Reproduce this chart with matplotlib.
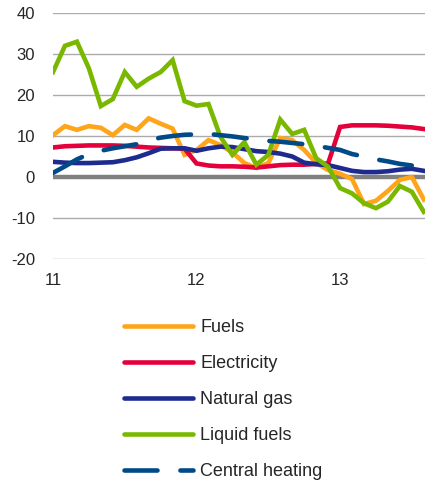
#!/usr/bin/env python3
"""
Energy price components, annual change (%), monthly from Jan 2011.
Recreated line chart with the legend stacked below the plot.
"""

import matplotlib
matplotlib.use("Agg")
import matplotlib.pyplot as plt
from matplotlib.lines import Line2D

plt.rcParams["font.family"] = ["Liberation Sans", "DejaVu Sans"]
plt.rcParams["axes.unicode_minus"] = False

# month index from Jan 2011 (0) to Aug 2013 (31)
months = list(range(32))

fuels = [10.2, 12.4, 11.5, 12.4, 12.0, 10.2, 12.7, 11.5, 14.3, 13.0, 11.8, 5.4,
         6.6, 9.0, 7.8, 6.0, 3.4, 2.2, 3.4, 9.5, 9.0, 6.6, 3.4, 1.7,
         0.8, -0.5, -6.6, -5.8, -3.4, -0.7, 0.0, -5.5]
electricity = [7.2, 7.5, 7.6, 7.7, 7.7, 7.7, 7.6, 7.4, 7.2, 7.1, 7.0, 6.9,
               3.3, 2.8, 2.6, 2.6, 2.5, 2.3, 2.6, 2.9, 3.0, 3.0, 3.2, 3.3,
               12.2, 12.6, 12.6, 12.6, 12.5, 12.3, 12.1, 11.7]
natural_gas = [3.7, 3.5, 3.4, 3.4, 3.5, 3.6, 4.1, 4.8, 5.8, 6.9, 7.0, 7.0,
               6.4, 7.0, 7.4, 7.3, 6.8, 6.3, 6.1, 5.7, 5.0, 3.5, 3.1, 2.9,
               2.2, 1.5, 1.2, 1.2, 1.4, 1.8, 2.0, 1.5]
liquid_fuels = [25.6, 32.0, 33.0, 26.5, 17.3, 19.0, 25.6, 22.0, 24.0, 25.6, 28.5, 18.5,
                17.4, 17.8, 9.8, 5.4, 8.5, 3.0, 5.4, 14.0, 10.5, 11.5, 4.6, 2.5,
                -2.7, -4.0, -6.4, -7.6, -6.0, -2.2, -3.6, -8.5]
central_heating = [1.0, 2.6, 4.3, 5.6, 6.4, 7.0, 7.5, 8.0, 9.0, 9.6, 10.0, 10.3,
                   10.4, 10.5, 10.2, 9.9, 9.5, 9.2, 8.8, 8.6, 8.3, 8.0, 7.6, 7.1,
                   6.6, 5.6, 5.0, 4.3, 3.8, 3.2, 2.8, 2.4]

labels = ["Fuels", "Electricity", "Natural gas", "Liquid fuels", "Central heating"]
colors = ["#FFA51A", "#E4003B", "#1E2B8E", "#7AB800", "#004A88"]

year_ticks = [0, 12, 24]
year_labels = ["11", "12", "13"]
y_ticks = [-20, -10, 0, 10, 20, 30, 40]

TEXT = "#262626"
LW = 3.3


def main():
    fig = plt.figure(figsize=(4.25, 4.86), dpi=100)
    ax = fig.add_axes([53 / 425, 1 - 259 / 486, 1 - 53 / 425, (259 - 13) / 486])

    for y in y_ticks:
        if y != 0:
            ax.axhline(y, color="#ABABAB", lw=1.0, zorder=1)
    ax.axhline(0, color="#808080", lw=3.2, zorder=2)

    series = [fuels, electricity, natural_gas, liquid_fuels]
    for vals, lab, col in zip(series, labels[:4], colors[:4]):
        ax.plot(months, vals, color=col, lw=LW, label=lab,
                solid_joinstyle="miter", zorder=3)
    ax.plot(months, central_heating, color=colors[4], lw=LW, label=labels[4],
            dashes=(7.2, 5.0), dash_capstyle="round", zorder=4)

    ax.set_xlim(0, 31.1)
    ax.set_ylim(-20, 40)
    ax.set_xticks(year_ticks)
    ax.set_xticklabels(year_labels)
    ax.set_yticks(y_ticks)
    ax.tick_params(length=0, labelsize=12, colors=TEXT)
    ax.tick_params(axis="y", pad=13)
    ax.tick_params(axis="x", pad=10)
    for s in ax.spines.values():
        s.set_visible(False)

    handles = [Line2D([], [], color=c, lw=LW, solid_capstyle="round") for c in colors[:4]]
    handles.append(Line2D([], [], color=colors[4], lw=LW, dashes=(7.2, 5.0),
                          dash_capstyle="round"))
    fig.legend(handles, labels, loc="upper left", bbox_to_anchor=(108 / 425, 1 - 303 / 486),
               frameon=False, fontsize=13, handlelength=3.8, handletextpad=0.4,
               labelspacing=1.05, labelcolor=TEXT)

    fig.savefig("out.png", dpi=100)


if __name__ == "__main__":
    main()
